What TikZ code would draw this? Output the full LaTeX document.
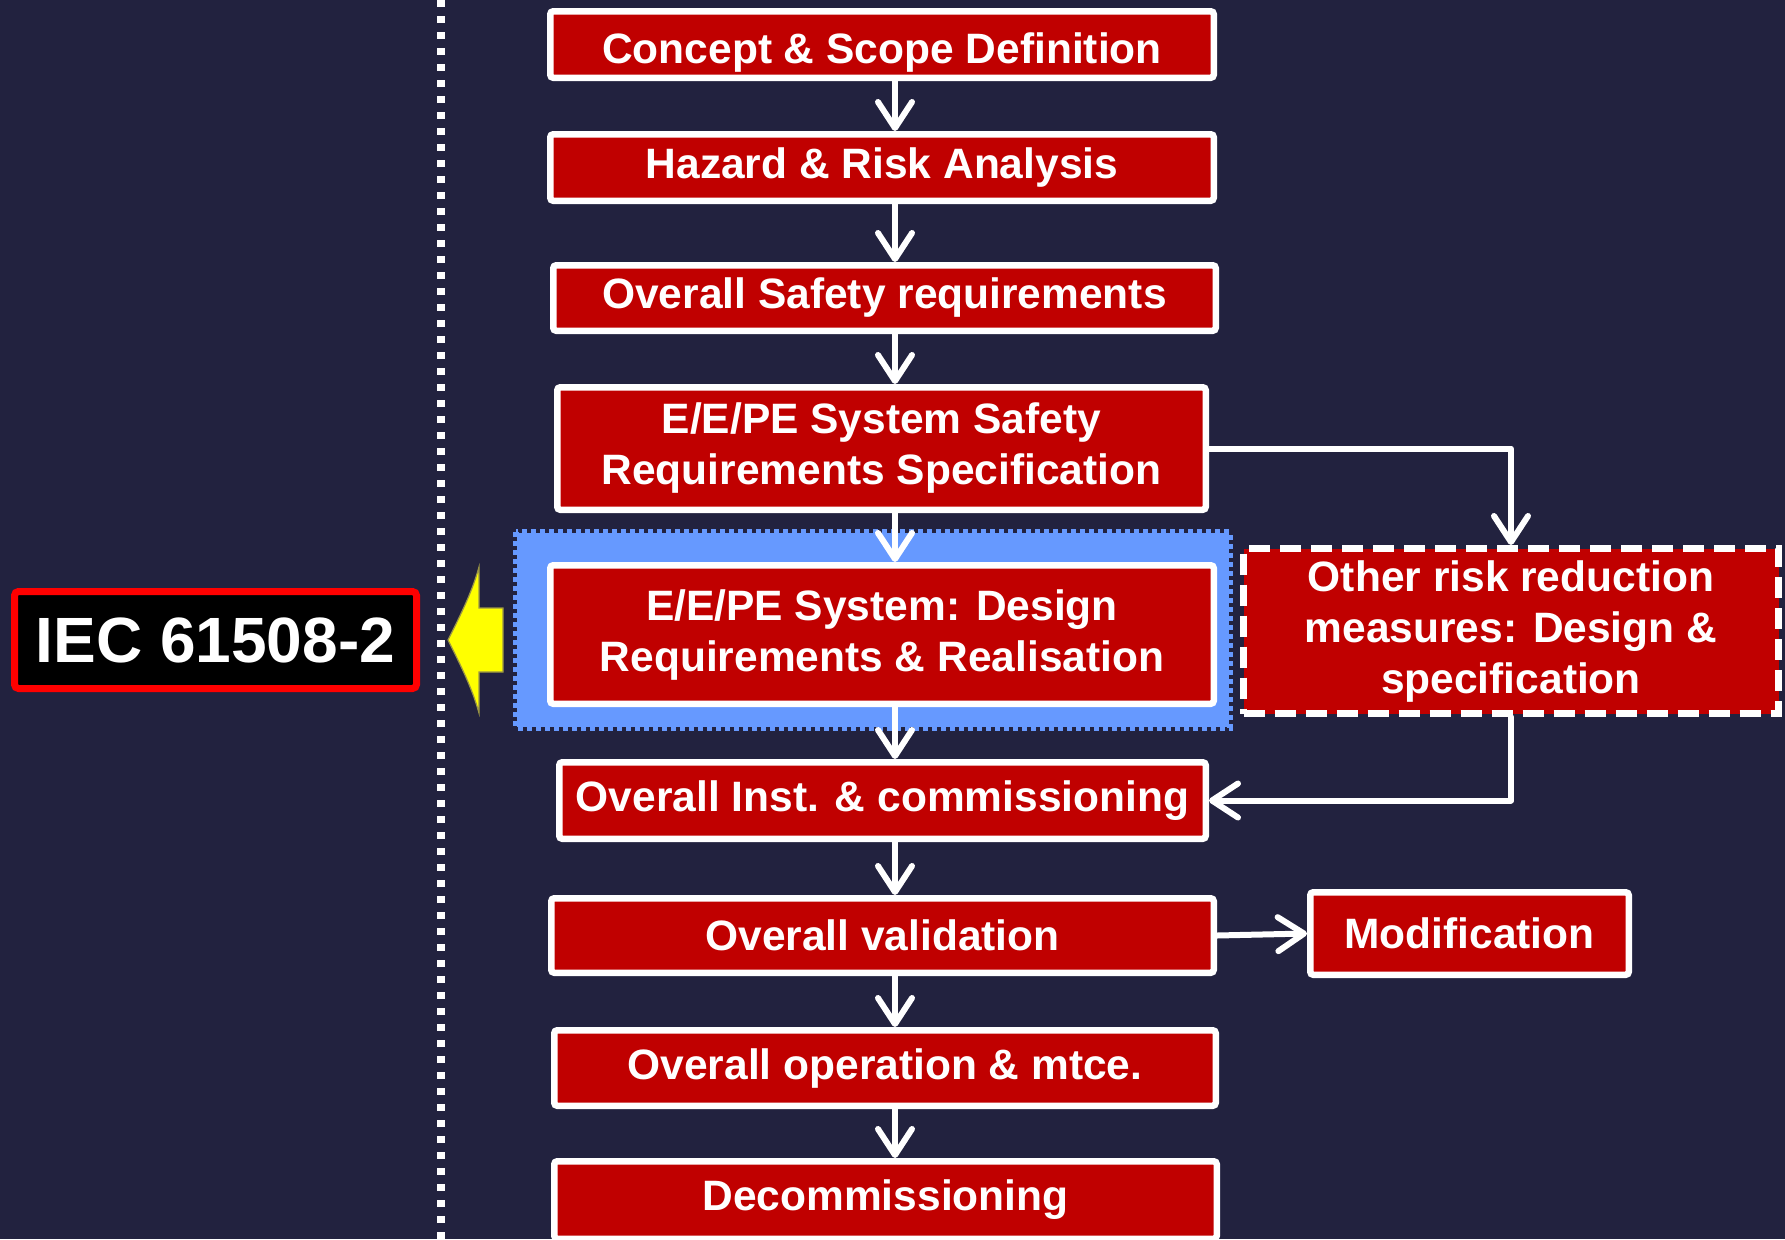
\documentclass[tikz,border=0pt]{standalone}
\usepackage{fontspec}
\setmainfont{Liberation Sans}
\usetikzlibrary{arrows.meta}
\definecolor{bgnavy}{HTML}{22223F}
\definecolor{boxred}{HTML}{C00000}
\definecolor{hiblue}{HTML}{6699FF}
\definecolor{iecred}{HTML}{FF0000}
\definecolor{arrowyellow}{HTML}{FFFF00}
\begin{document}
\begin{tikzpicture}[x=0.5pt,y=-0.5pt,
  stage/.style={draw=white, line width=3.25pt, fill=boxred, rounded corners=1.5pt,
    text=white, font=\bfseries\fontsize{21.25}{25.5}\selectfont, align=center, inner sep=0pt},
  otherstage/.style={stage, line width=3.5pt, rounded corners=0pt, dash pattern=on 10.5pt off 5pt},
  flow/.style={draw=white, line width=3pt, line cap=round, line join=round,
    -{Straight Barb[length=13pt,width=17pt,round]}},
  iecbox/.style={draw=iecred, line width=3.5pt, fill=black, rounded corners=2pt,
    text=white, font=\bfseries\fontsize{32}{38}\selectfont, inner sep=0pt}]

% background and page frame
\fill[bgnavy] (0,0) rectangle (1785,1239);
\clip (0,0) rectangle (1785,1239);

% dotted separator
\draw[white, line width=4pt, dash pattern=on 3.5pt off 4.5pt] (441,0) -- (441,1239);

% highlighted region behind the design stage
\fill[hiblue] (517,533) rectangle (1229,727);
\draw[hiblue, line width=3pt, dash pattern=on 2.5pt off 2pt] (516,532) rectangle (1230,728);

% pointer towards the standard label
\fill[arrowyellow, draw=yellow!55!black, line width=0.6pt]
  (448,640) .. controls (462,612) and (472,592) .. (479,567) -- (479,608) -- (503,608)
  -- (503,672) -- (479,672) -- (479,713) .. controls (472,688) and (462,668) .. (448,640) -- cycle;

% standard label
\node[iecbox, minimum width=201pt, minimum height=48.5pt] (iec) at (215.5,640) {IEC 61508-2};

% lifecycle stages
\node[stage, minimum width=331.75pt, minimum height=33.25pt, text height=19pt, text depth=0pt] (concept) at (882,44.5) {Concept \& Scope Definition};
\node[stage, minimum width=331.75pt, minimum height=33.25pt] (hazard) at (882,167.5) {Hazard \& Risk Analysis};
\node[stage, minimum width=331.25pt, minimum height=32.75pt] (safety) at (884.5,298) {Overall Safety requirements};
\node[stage, minimum width=324.25pt, minimum height=61.25pt] (srs) at (881.5,448.5) {E/E/PE System Safety\\Requirements Specification};
\node[stage, minimum width=331.75pt, minimum height=69.25pt] (design) at (882,634.5) {E/E/PE System: Design\\Requirements \& Realisation};
\node[otherstage, minimum width=267.5pt, minimum height=82.5pt] (other) at (1511,631) {Other risk reduction\\measures: Design \&\\specification};
\node[stage, minimum width=323.25pt, minimum height=38.25pt] (inst) at (882.5,800.5) {Overall Inst. \& commissioning};
\node[stage, minimum width=331.25pt, minimum height=37.25pt] (valid) at (882.5,935.5) {Overall validation};
\node[stage, minimum width=159.25pt, minimum height=41.25pt] (modif) at (1469.5,933.5) {Modification};
\node[stage, minimum width=330.75pt, minimum height=37.75pt] (oper) at (885,1068) {Overall operation \& mtce.};
\node[stage, minimum width=331.25pt, minimum height=38.75pt] (decom) at (885.5,1200) {Decommissioning};

% main flow
\coordinate (ax) at (895,0);
\draw[flow] (concept.south -| ax) -- (hazard.north -| ax);
\draw[flow] (hazard.south -| ax) -- (safety.north -| ax);
\draw[flow] (safety.south -| ax) -- (srs.north -| ax);
\draw[flow] (srs.south -| ax) -- (design.north -| ax);
\draw[flow] (design.south -| ax) -- (inst.north -| ax);
\draw[flow] (inst.south -| ax) -- (valid.north -| ax);
\draw[flow] (valid.south -| ax) -- (oper.north -| ax);
\draw[flow] (oper.south -| ax) -- (decom.north -| ax);

% side branches
\draw[flow] (srs.east) -| (other.north);
\draw[flow] (other.south) |- (inst.east);
\draw[flow] (valid.east) -- (modif.west);
\end{tikzpicture}
\end{document}
